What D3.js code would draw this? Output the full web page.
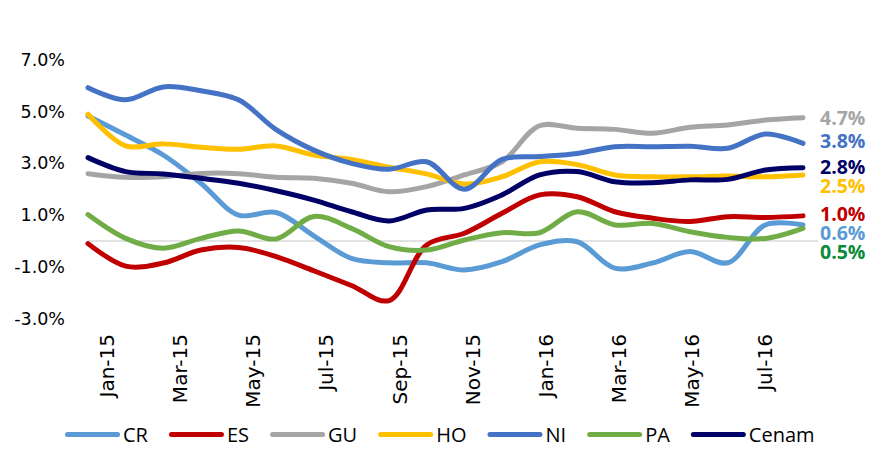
<!DOCTYPE html>
<html>
<head>
<meta charset="utf-8">
<script src="https://cdn.jsdelivr.net/npm/d3@7"></script>
<style>
  html, body { margin: 0; padding: 0; background: #fff; }
  svg { display: block; }
</style>
</head>
<body>
<svg id="chart" width="883" height="455"></svg>
<script>
// ---------- data ----------
const months = ["Jan-15","Feb-15","Mar-15","Apr-15","May-15","Jun-15","Jul-15","Aug-15","Sep-15","Oct-15","Nov-15","Dec-15",
                "Jan-16","Feb-16","Mar-16","Apr-16","May-16","Jun-16","Jul-16","Aug-16"];
const tickMonths = ["Jan-15","Mar-15","May-15","Jul-15","Sep-15","Nov-15","Jan-16","Mar-16","May-16","Jul-16"];
const yTicks = [-3, -1, 1, 3, 5, 7];

const seriesNames = ["CR","ES","GU","HO","NI","PA","Cenam"];
const CR    = [4.83, 4.09, 3.32, 2.23, 1.0, 1.1, 0.2, -0.67, -0.84, -0.84, -1.12, -0.8, -0.15, -0.03, -1.05, -0.85, -0.41, -0.84, 0.62, 0.62];
const ES    = [-0.1, -0.97, -0.85, -0.35, -0.25, -0.6, -1.15, -1.72, -2.3, -0.15, 0.3, 1.07, 1.78, 1.71, 1.13, 0.88, 0.75, 0.94, 0.91, 0.97];
const GU    = [2.6, 2.46, 2.48, 2.61, 2.6, 2.46, 2.42, 2.23, 1.9, 2.1, 2.55, 3.06, 4.45, 4.35, 4.31, 4.16, 4.39, 4.48, 4.67, 4.76];
const HO    = [4.9, 3.67, 3.75, 3.62, 3.54, 3.67, 3.32, 3.15, 2.85, 2.59, 2.2, 2.48, 3.06, 2.95, 2.55, 2.48, 2.48, 2.51, 2.48, 2.55];
const NI    = [5.92, 5.45, 5.95, 5.8, 5.45, 4.3, 3.51, 3.0, 2.77, 3.06, 2.0, 3.15, 3.26, 3.38, 3.64, 3.64, 3.66, 3.58, 4.13, 3.77];
const PA    = [1.02, 0.1, -0.28, 0.1, 0.39, 0.08, 0.95, 0.49, -0.22, -0.35, 0.04, 0.32, 0.32, 1.13, 0.62, 0.68, 0.36, 0.14, 0.1, 0.49];
const Cenam = [3.22, 2.68, 2.59, 2.42, 2.23, 1.94, 1.58, 1.13, 0.77, 1.2, 1.26, 1.78, 2.55, 2.68, 2.29, 2.25, 2.36, 2.38, 2.74, 2.83];
const endLabels = [0.6, 1.0, 4.7, 2.5, 3.8, 0.5, 2.8];

const lineColors  = ["#5B9BD5","#C00000","#A5A5A5","#FFC000","#4472C4","#70AD47","#000066"];
const labelColors = ["#5B9BD5","#C00000","#A5A5A5","#FFC000","#4472C4","#0A8A3A","#000066"];

const seriesValues = [CR, ES, GU, HO, NI, PA, Cenam];

// ---------- scales ----------
const svg = d3.select("#chart");
const x = d3.scalePoint().domain(months).range([88, 803]);
const xLab = d3.scalePoint().domain(months).range([107, 802]);
const y = d3.scaleLinear().domain([-3, 7]).range([318.7, 59.7]);

// zero line
svg.append("line")
  .attr("x1", x(months[0])).attr("x2", 818)
  .attr("y1", y(0)).attr("y2", y(0))
  .attr("stroke", "#D9D9D9").attr("stroke-width", 1.5);

// y tick labels
svg.append("g").selectAll("text").data(yTicks).join("text")
  .attr("x", 65).attr("y", d => y(d)).attr("dy", "0.35em")
  .attr("text-anchor", "end")
  .attr("font-family", "DejaVu Sans, sans-serif").attr("font-size", 17.5)
  .attr("fill", "#000")
  .text(d => d.toFixed(1) + "%");

// x tick labels
svg.append("g").selectAll("text").data(tickMonths).join("text")
  .attr("transform", d => `translate(${xLab(d)},334) rotate(-90)`)
  .attr("dy", "0.35em")
  .attr("text-anchor", "end")
  .attr("font-family", "DejaVu Sans, sans-serif").attr("font-size", 20)
  .attr("fill", "#000")
  .text(d => d);

// lines
const line = d3.line()
  .x((d, i) => x(months[i]))
  .y(d => y(d))
  .curve(d3.curveCatmullRom.alpha(0.5));

svg.append("g").selectAll("path").data(seriesValues).join("path")
  .attr("d", d => line(d))
  .attr("fill", "none")
  .attr("stroke", (d, i) => lineColors[i])
  .attr("stroke-width", 5)
  .attr("stroke-linecap", "round")
  .attr("stroke-linejoin", "round");

// end labels with simple collision avoidance
const order = d3.range(seriesNames.length).sort((a, b) => endLabels[b] - endLabels[a]);
const labelY = [];
let prev = -Infinity;
order.forEach(i => {
  let yy = y(endLabels[i]) - 1;
  if (yy < prev + 19) yy = prev + 19;
  labelY[i] = yy;
  prev = yy;
});
svg.append("g").selectAll("text").data(seriesNames).join("text")
  .attr("x", 820)
  .attr("y", (d, i) => labelY[i])
  .attr("dy", "0.35em")
  .attr("font-family", "Open Sans, sans-serif").attr("font-weight", "bold").attr("font-size", 19.5)
  .attr("fill", (d, i) => labelColors[i])
  .text((d, i) => endLabels[i].toFixed(1) + "%");

// legend
const legend = svg.append("g");
let lx = 65;
const ly = 434.5;
seriesNames.forEach((name, i) => {
  legend.append("line")
    .attr("x1", lx + 2.5).attr("x2", lx + 52.5)
    .attr("y1", ly).attr("y2", ly)
    .attr("stroke", lineColors[i]).attr("stroke-width", 5)
    .attr("stroke-linecap", "round");
  const t = legend.append("text")
    .attr("x", lx + 58).attr("y", ly).attr("dy", "0.35em")
    .attr("font-family", "Open Sans, sans-serif")
    .attr("font-size", 20)
    .attr("fill", "#000")
    .text(name);
  lx = lx + 58 + t.node().getComputedTextLength() + 21;
});
</script>
</body>
</html>
